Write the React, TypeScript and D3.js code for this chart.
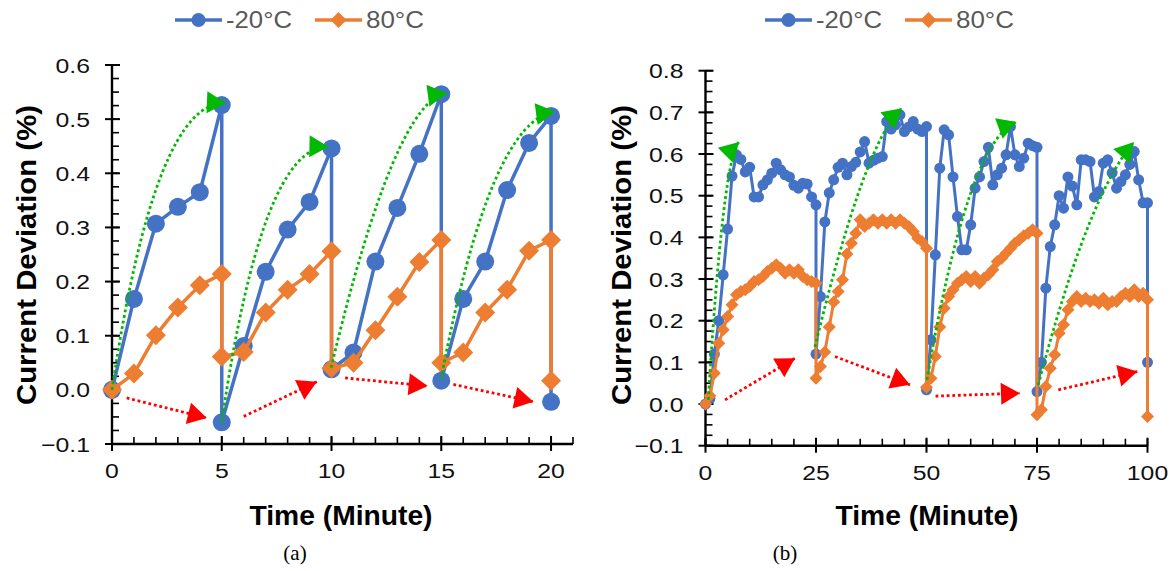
import React, {useEffect, useRef} from 'react';
import * as d3 from 'd3';

const seriesNames = ['-20°C', '80°C'];
const seriesColors = ['#4472C4', '#ED7D31'];

// (a) 20 minutes, temperature switched every 5 minutes
const minutesA = [0, 1, 2, 3, 4, 5, 5, 6, 7, 8, 9, 10, 10, 11, 12, 13, 14, 15, 15, 16, 17, 18, 19, 20, 20];
const coldA = [0, 0.168, 0.307, 0.338, 0.365, 0.526, -0.06, 0.081, 0.218, 0.296, 0.347, 0.446, 0.038,
    0.069, 0.237, 0.336, 0.436, 0.546, 0.017, 0.168, 0.237, 0.369, 0.456, 0.506, -0.022];
const hotA = [0, 0.03, 0.101, 0.152, 0.193, 0.214, 0.061, 0.07, 0.143, 0.185, 0.214, 0.256, 0.04,
    0.05, 0.11, 0.172, 0.236, 0.277, 0.05, 0.069, 0.143, 0.185, 0.257, 0.277, 0.017];
const xTicksA = [0, 5, 10, 15, 20];
const yTicksA = [-0.1, 0, 0.1, 0.2, 0.3, 0.4, 0.5, 0.6];
// green dotted arcs [x0, y0, cx, cy, x1, y1]
const greenArcsA = [
    [0, 0, 1.96, 0.535, 5.19, 0.53],
    [5, -0.06, 6.83, 0.452, 9.86, 0.449],
    [9.98, 0.041, 12.89, 0.535, 15.25, 0.548],
    [14.99, 0.02, 17.22, 0.498, 20.18, 0.514],
];
// red dotted arrows [x0, y0, x1, y1]
const redArrowsA = [
    [0.67, -0.015, 4.32, -0.052],
    [6.0, -0.049, 9.33, 0.015],
    [10.62, 0.022, 14.38, 0.007],
    [15.55, 0.01, 19.2, -0.022],
];

// (b) 100 minutes, temperature switched every 25 minutes
const minutesB = [
    0, 1, 2, 3, 4, 5, 6, 7, 8, 9, 10, 11, 12, 13, 14, 15, 16, 17, 18, 19, 20, 21, 22, 23, 24, 25, 25,
    26, 27, 28, 29, 30, 31, 32, 33, 34, 35, 36, 37, 38, 39, 40, 41, 42, 43, 44, 45, 46, 47, 48, 49, 50, 50,
    51, 52, 53, 54, 55, 56, 57, 58, 59, 60, 61, 62, 63, 64, 65, 66, 67, 68, 69, 70, 71, 72, 73, 74, 75, 75,
    76, 77, 78, 79, 80, 81, 82, 83, 84, 85, 86, 87, 88, 89, 90, 91, 92, 93, 94, 95, 96, 97, 98, 99, 100, 100,
];
const coldB = [
    0, 0.013, 0.12, 0.2, 0.31, 0.42, 0.547, 0.598, 0.587, 0.557, 0.568, 0.497, 0.497, 0.526, 0.538, 0.554,
    0.578, 0.562, 0.55, 0.545, 0.525, 0.518, 0.53, 0.528, 0.497, 0.478, 0.12,
    0.258, 0.437, 0.507, 0.538, 0.568, 0.578, 0.55, 0.57, 0.58, 0.605, 0.63, 0.578, 0.585, 0.59, 0.594,
    0.678, 0.66, 0.67, 0.694, 0.654, 0.665, 0.678, 0.66, 0.654, 0.666, 0.034,
    0.154, 0.358, 0.566, 0.658, 0.646, 0.545, 0.45, 0.37, 0.37, 0.43, 0.518, 0.545, 0.582, 0.616, 0.526,
    0.55, 0.566, 0.598, 0.666, 0.598, 0.57, 0.59, 0.626, 0.62, 0.616, 0.03,
    0.1, 0.278, 0.378, 0.43, 0.5, 0.47, 0.545, 0.523, 0.478, 0.586, 0.586, 0.582, 0.497, 0.51, 0.578,
    0.586, 0.555, 0.518, 0.534, 0.55, 0.575, 0.606, 0.538, 0.483, 0.483, 0.1,
];
const hotB = [
    0, 0.02, 0.074, 0.146, 0.178, 0.21, 0.238, 0.262, 0.27, 0.274, 0.282, 0.294, 0.298, 0.306, 0.318, 0.326,
    0.334, 0.326, 0.314, 0.322, 0.314, 0.322, 0.306, 0.298, 0.294, 0.29, 0.062,
    0.09, 0.125, 0.185, 0.245, 0.27, 0.298, 0.36, 0.386, 0.41, 0.442, 0.426, 0.434, 0.442, 0.434, 0.442,
    0.434, 0.442, 0.434, 0.442, 0.434, 0.426, 0.414, 0.398, 0.39, 0.374, 0.04,
    0.062, 0.114, 0.185, 0.23, 0.258, 0.274, 0.29, 0.298, 0.306, 0.294, 0.306, 0.29, 0.302, 0.31, 0.322,
    0.342, 0.35, 0.362, 0.374, 0.386, 0.394, 0.404, 0.41, 0.418, 0.41, -0.026,
    -0.014, 0.042, 0.086, 0.118, 0.17, 0.19, 0.226, 0.246, 0.258, 0.246, 0.254, 0.246, 0.25, 0.242, 0.254,
    0.238, 0.246, 0.246, 0.258, 0.266, 0.258, 0.274, 0.258, 0.266, 0.25, -0.03,
];
const xTicksB = [0, 25, 50, 75, 100];
const yTicksB = [-0.1, 0, 0.1, 0.2, 0.3, 0.4, 0.5, 0.6, 0.7, 0.8];
const greenArcsB = [
    [0.63, 0.01, 3.96, 0.59, 7.58, 0.629],
    [24.77, 0.137, 36.09, 0.634, 44.46, 0.71],
    [50.11, 0.058, 59.39, 0.634, 70.41, 0.677],
    [75.29, 0.046, 86.54, 0.502, 96.95, 0.629],
];
const redArrowsB = [
    [4.41, 0.01, 20.25, 0.11],
    [29.3, 0.114, 46.27, 0.046],
    [52.04, 0.019, 71.15, 0.026],
    [79.82, 0.034, 97.69, 0.078],
];

const FONT = '"Liberation Sans", Arial, sans-serif';
const GREEN = '#00B900';
const RED = '#FF0000';

function arrowHead(g, tipX, tipY, fromX, fromY, color) {
    const a = Math.atan2(tipY - fromY, tipX - fromX);
    const len = 19, half = 11;
    const bx = tipX - len * Math.cos(a), by = tipY - len * Math.sin(a);
    const px = -Math.sin(a) * half, py = Math.cos(a) * half;
    g.append('polygon')
        .attr('points', `${tipX},${tipY} ${bx + px},${by + py} ${bx - px},${by - py}`)
        .attr('fill', color);
}

function drawPanel(svg, p) {
    const x = d3.scaleLinear().domain(p.xDomain).range(p.xRange);
    const y = d3.scaleLinear().domain(p.yDomain).range(p.yRange);
    const g = svg.append('g');
    const x0 = p.xRange[0];
    const yBase = p.yRange[0];

    // minor ticks
    d3.range(p.yDomain[0], p.yDomain[1] + 0.001, 0.025).forEach(v => {
        g.append('line').attr('x1', x0).attr('x2', x0 + 7).attr('y1', y(v)).attr('y2', y(v))
            .attr('stroke', '#000').attr('stroke-width', 1.6);
    });
    d3.range(p.xDomain[0], p.xDomain[1] + 0.001, p.xMinor).forEach(v => {
        g.append('line').attr('x1', x(v)).attr('x2', x(v)).attr('y1', yBase).attr('y2', yBase - 7)
            .attr('stroke', '#000').attr('stroke-width', 1.6);
    });
    // major ticks
    p.yTicks.forEach(v => {
        g.append('line').attr('x1', x0 - 7).attr('x2', x0 + 8).attr('y1', y(v)).attr('y2', y(v))
            .attr('stroke', '#000').attr('stroke-width', 2);
        g.append('text')
            .attr('transform', `translate(${x0 - 22},${y(v)}) scale(1.18,1)`)
            .attr('dy', '0.36em')
            .attr('text-anchor', 'end')
            .attr('font-family', FONT)
            .attr('font-size', '21px')
            .attr('fill', '#111')
            .text(d3.format('.1f')(v));
    });
    p.xTicks.forEach(v => {
        g.append('line').attr('x1', x(v)).attr('x2', x(v)).attr('y1', yBase - 8).attr('y2', yBase + 7)
            .attr('stroke', '#000').attr('stroke-width', 2);
        g.append('text')
            .attr('transform', `translate(${x(v)},${yBase + 34}) scale(1.18,1)`)
            .attr('text-anchor', 'middle')
            .attr('font-family', FONT)
            .attr('font-size', '21px')
            .attr('fill', '#111')
            .text(v);
    });
    // axis lines
    g.append('line').attr('x1', x0).attr('x2', x0).attr('y1', yBase + 1).attr('y2', p.yRange[1])
        .attr('stroke', '#000').attr('stroke-width', 2.4);
    g.append('line').attr('x1', x0).attr('x2', p.xRange[1]).attr('y1', yBase).attr('y2', yBase)
        .attr('stroke', '#000').attr('stroke-width', 2.4);

    // titles
    g.append('text')
        .attr('x', p.xTitleX).attr('y', 525)
        .attr('text-anchor', 'middle')
        .attr('font-family', FONT).attr('font-weight', 'bold').attr('font-size', '27px')
        .attr('textLength', 183).attr('lengthAdjust', 'spacingAndGlyphs')
        .text('Time (Minute)');
    g.append('text')
        .attr('transform', `translate(${p.yTitleX},255) rotate(-90)`)
        .attr('dy', '0.35em')
        .attr('text-anchor', 'middle')
        .attr('font-family', FONT).attr('font-weight', 'bold').attr('font-size', '27px')
        .attr('textLength', 300).attr('lengthAdjust', 'spacingAndGlyphs')
        .text('Current Deviation (%)');
    g.append('text')
        .attr('x', p.captionX).attr('y', 560)
        .attr('text-anchor', 'middle')
        .attr('font-family', '"Liberation Serif", "Times New Roman", serif').attr('font-size', '21px')
        .text(p.caption);

    // series
    [p.cold, p.hot].forEach((vals, si) => {
        const color = seriesColors[si];
        const line = d3.line<number>().x((d, i) => x(p.minutes[i])).y(d => y(d));
        g.append('path').datum(vals)
            .attr('fill', 'none').attr('stroke', color).attr('stroke-width', p.lineW)
            .attr('stroke-linejoin', 'round')
            .attr('d', line);
        vals.forEach((v, i) => {
            const cx = x(p.minutes[i]), cy = y(v);
            if (si === 0) {
                g.append('circle').attr('cx', cx).attr('cy', cy).attr('r', p.dot).attr('fill', color);
            } else {
                const h = p.diamond;
                g.append('polygon')
                    .attr('points', `${cx},${cy - h} ${cx + h},${cy} ${cx},${cy + h} ${cx - h},${cy}`)
                    .attr('fill', color);
            }
        });
    });

    // green trend arcs
    p.greenArcs.forEach(a => {
        const path = d3.path();
        path.moveTo(x(a[0]), y(a[1]));
        path.quadraticCurveTo(x(a[2]), y(a[3]), x(a[4]), y(a[5]));
        g.append('path').attr('d', path.toString())
            .attr('fill', 'none').attr('stroke', GREEN).attr('stroke-width', 2.8)
            .attr('stroke-dasharray', '2.8 2.8');
        arrowHead(g, x(a[4]), y(a[5]), x(a[2]), y(a[3]), GREEN);
    });
    // red drift arrows
    p.redArrows.forEach(a => {
        g.append('line').attr('x1', x(a[0])).attr('y1', y(a[1])).attr('x2', x(a[2])).attr('y2', y(a[3]))
            .attr('stroke', RED).attr('stroke-width', 2.8).attr('stroke-dasharray', '2.8 2.8');
        arrowHead(g, x(a[2]), y(a[3]), x(a[0]), y(a[1]), RED);
    });

    // legend
    seriesNames.forEach((name, i) => {
        const lx = p.legendX + i * 140;
        const ly = 20;
        const color = seriesColors[i];
        g.append('line').attr('x1', lx).attr('x2', lx + 47).attr('y1', ly).attr('y2', ly)
            .attr('stroke', color).attr('stroke-width', 3.5);
        if (i === 0) {
            g.append('circle').attr('cx', lx + 23.5).attr('cy', ly).attr('r', 7).attr('fill', color);
        } else {
            const cx = lx + 23.5, h = 8;
            g.append('polygon')
                .attr('points', `${cx},${ly - h} ${cx + h},${ly} ${cx},${ly + h} ${cx - h},${ly}`)
                .attr('fill', color);
        }
        g.append('text')
            .attr('x', lx + 51).attr('y', ly).attr('dy', '0.36em')
            .attr('font-family', FONT).attr('font-size', '23px').attr('fill', '#595959')
            .attr('textLength', i === 0 ? 66 : 58).attr('lengthAdjust', 'spacingAndGlyphs')
            .text(name);
    });
}

export default function App() {
    const svgRef = useRef(null);

    useEffect(() => {
        const svg = d3.select(svgRef.current);
        svg.selectAll('*').remove();
        svg.append('rect').attr('width', 1174).attr('height', 571).attr('fill', '#fff');

        drawPanel(svg, {
            minutes: minutesA, cold: coldA, hot: hotA,
            xDomain: [0, 21], xRange: [112, 573], xMinor: 1,
            yDomain: [-0.1, 0.6], yRange: [444, 65],
            xTicks: xTicksA, yTicks: yTicksA,
            greenArcs: greenArcsA, redArrows: redArrowsA,
            lineW: 3.5, dot: 9, diamond: 10,
            xTitleX: 341, yTitleX: 27, captionX: 295, caption: '(a)', legendX: 175,
        });
        drawPanel(svg, {
            minutes: minutesB, cold: coldB, hot: hotB,
            xDomain: [0, 100], xRange: [705.5, 1147.5], xMinor: 5,
            yDomain: [-0.1, 0.8], yRange: [445.7, 70.7],
            xTicks: xTicksB, yTicks: yTicksB,
            greenArcs: greenArcsB, redArrows: redArrowsB,
            lineW: 3, dot: 5.5, diamond: 6.5,
            xTitleX: 927, yTitleX: 622, captionX: 785, caption: '(b)', legendX: 765,
        });
    }, []);

    return (
        <svg ref={svgRef} width={1174} height={571}
             style={{position: 'absolute', left: 0, top: 0, display: 'block'}}/>
    );
}
